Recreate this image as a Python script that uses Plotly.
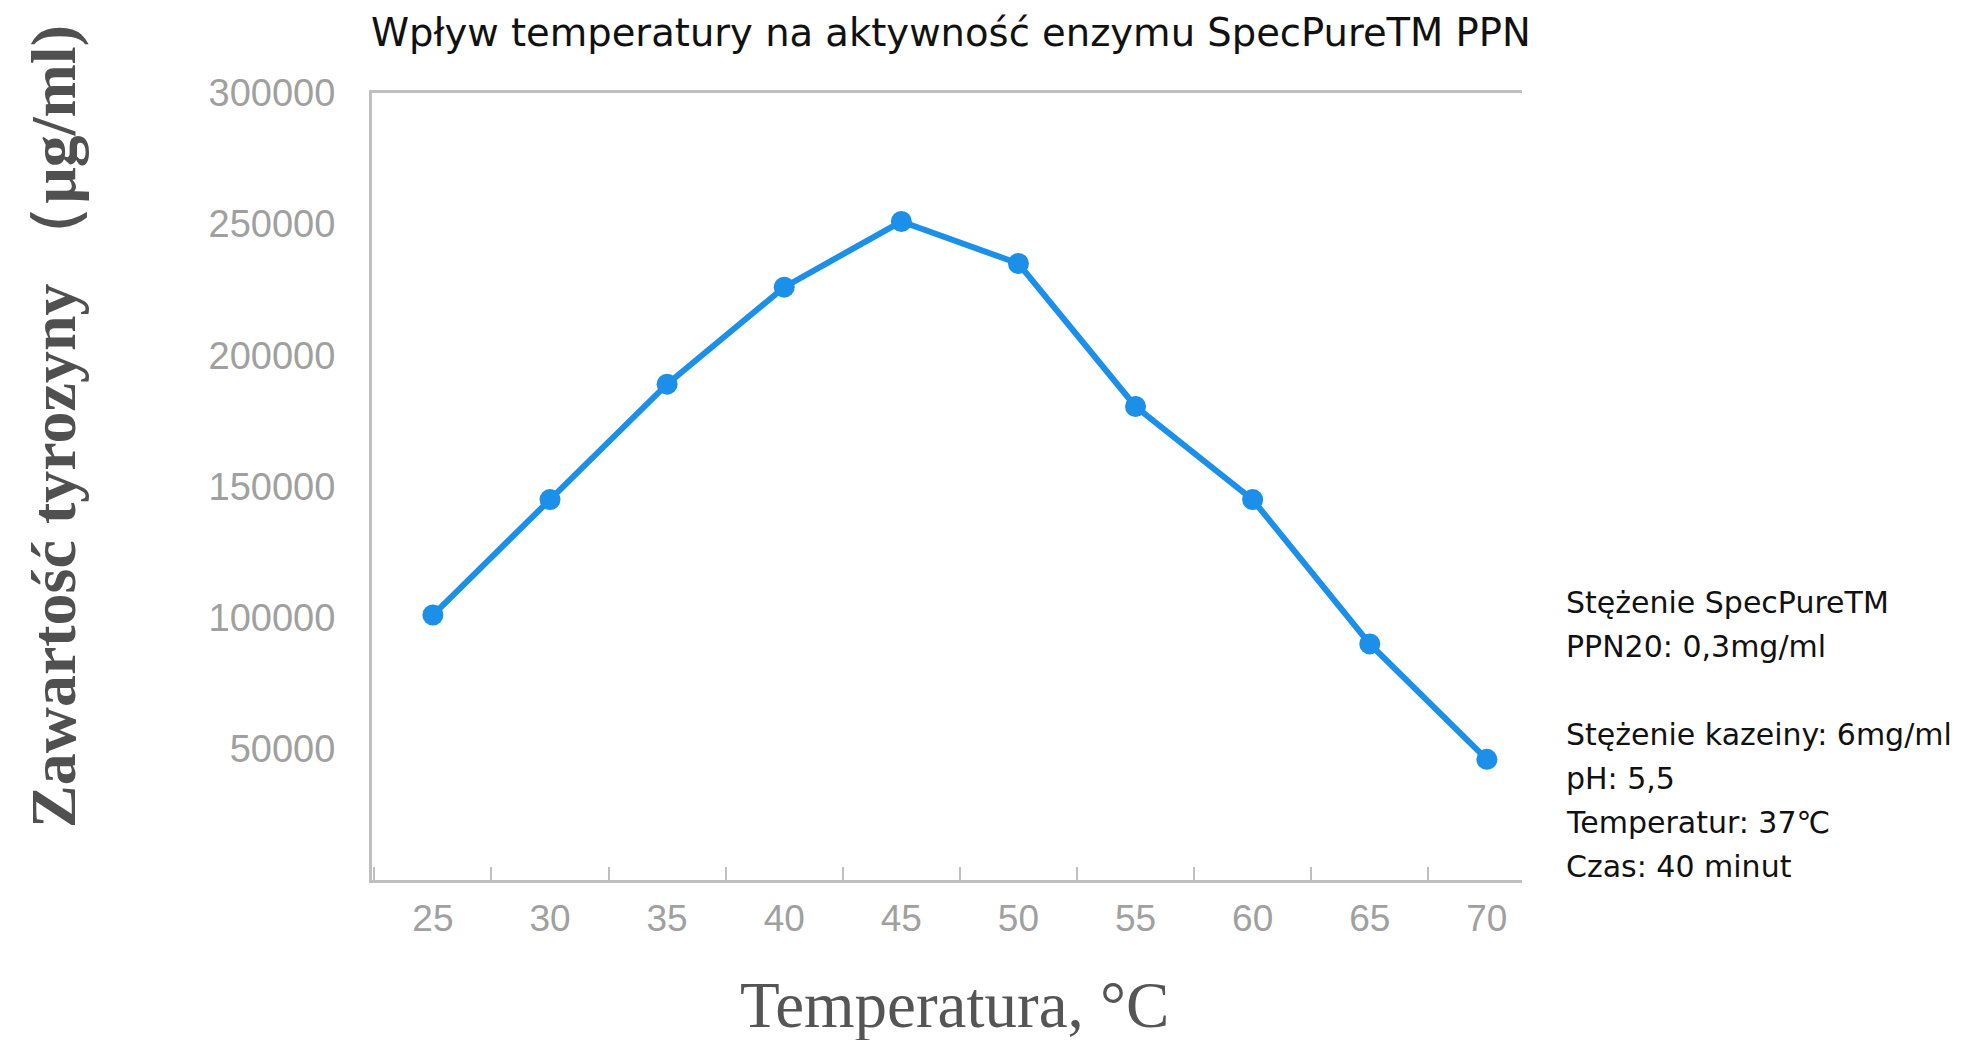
import plotly.graph_objects as go

temps = ["25", "30", "35", "40", "45", "50", "55", "60", "65", "70"]
tyrosine = [101000, 145000, 189000, 226000, 251000, 235000, 180500, 145000, 90000, 46000]
y_ticks = [50000, 100000, 150000, 200000, 250000, 300000]
y_tick_text = ["50000", "100000", "150000", "200000", "250000", "300000"]

title_text = "Wpływ temperatury na aktywność enzymu SpecPureTM PPN"
x_title = "Temperatura, °C"
y_title = "Zawartość tyrozyny （μg/ml)"
note_lines = [
    "Stężenie SpecPureTM",
    "PPN20: 0,3mg/ml",
    "",
    "Stężenie kazeiny: 6mg/ml",
    "pH: 5,5",
    "Temperatur: 37℃",
    "Czas: 40 minut",
]

W, H = 1978, 1040
L, R, T, B = 364, 1514, 85, 872


def px(x):
    return (x - L) / (R - L)


def py(y):
    return (B - y) / (B - T)


fig = go.Figure()
fig.add_trace(go.Scatter(
    x=temps, y=tyrosine, mode="lines+markers",
    line=dict(color="#1C8FE8", width=6),
    marker=dict(color="#1C8FE8", size=21),
    showlegend=False,
))

annotations = [
    dict(text=title_text, x=px(943), y=py(25), xref="paper", yref="paper",
         xanchor="center", yanchor="middle", showarrow=False,
         font=dict(family="DejaVu Sans", size=38.5, color="#111111")),
    dict(text=x_title, x=px(946), y=py(997), xref="paper", yref="paper",
         xanchor="center", yanchor="middle", showarrow=False,
         font=dict(family="Liberation Serif", size=65, color="#555555")),
    dict(text="<b>" + y_title + "</b>", x=px(45), y=py(419), xref="paper", yref="paper",
         xanchor="center", yanchor="middle", showarrow=False, textangle=-90,
         font=dict(family="Liberation Serif", size=64, color="#505050")),
]
for i, line in enumerate(note_lines):
    if not line:
        continue
    annotations.append(dict(
        text=line, x=px(1556), y=py(594 + 44 * i), xref="paper", yref="paper",
        xanchor="left", yanchor="middle", showarrow=False,
        font=dict(family="DejaVu Sans", size=30, color="#111111")))

fig.update_layout(
    width=W, height=H,
    margin=dict(l=L, r=W - R, t=T, b=H - B, pad=0),
    plot_bgcolor="white", paper_bgcolor="white",
    annotations=annotations,
    xaxis=dict(
        type="category", range=[-0.52, 9.3],
        showline=True, linecolor="#BFBFBF", linewidth=3, mirror=True,
        ticks="inside", tickson="boundaries", ticklen=13, tickwidth=2, tickcolor="#BFBFBF",
        showgrid=False, zeroline=False,
        tickfont=dict(family="Liberation Sans", size=37, color="#A0A0A0"),
        ticklabelstandoff=4,
    ),
    yaxis=dict(
        range=[0, 300000], tickvals=y_ticks, ticktext=y_tick_text,
        showline=True, linecolor="#BFBFBF", linewidth=3,
        ticks="", showgrid=False, zeroline=False,
        tickfont=dict(family="Liberation Sans", size=38, color="#A0A0A0"),
        ticklabelstandoff=26,
    ),
)

fig.write_html("out.html")
